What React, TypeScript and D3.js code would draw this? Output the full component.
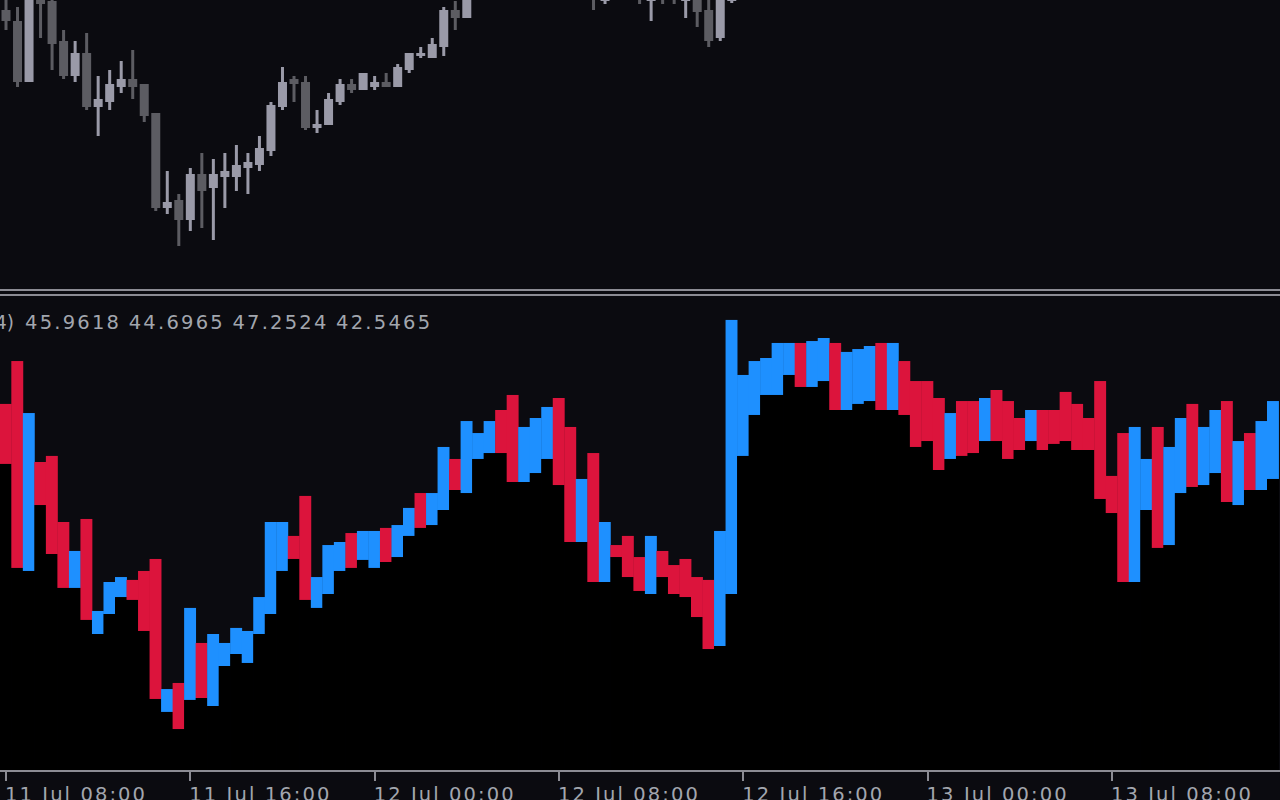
import React from "react";
import * as d3 from "d3";

// ---------- data ----------
// bottom pane: RSI candle ranges per bar (index 0 = 11 Jul 08:00, 30-minute bars)
const rsiHigh = [
  47.88, 50.56, 47.31, 44.25, 44.63, 40.5, 38.69, 40.69, 34.94, 36.75,
  37.06, 36.88, 37.44, 38.19, 30.06, 30.44, 35.13, 32.94, 33.5, 32.94,
  33.88, 33.69, 35.81, 40.5, 40.5, 39.63, 42.13, 37.06, 39.06, 39.25,
  39.81, 39.94, 39.94, 40.13, 40.31, 41.38, 42.31, 42.31, 45.19, 44.44,
  46.81, 46.06, 46.81, 47.5, 48.44, 46.44, 47.0, 47.69, 48.25, 46.44,
  43.19, 44.81, 40.5, 39.06, 39.63, 38.31, 39.63, 38.69, 37.81, 38.19,
  37.06, 36.88, 39.94, 53.13, 49.69, 50.56, 50.75, 51.69, 51.69, 51.69,
  51.81, 52.0, 51.69, 51.13, 51.31, 51.5, 51.69, 51.69, 50.56, 49.31,
  49.31, 48.25, 47.31, 48.06, 48.06, 48.25, 48.75, 48.06, 47.0, 47.5,
  47.5, 47.5, 48.63, 47.88, 47.0, 49.31, 43.38, 46.06, 46.44, 44.44,
  46.44, 45.19, 47.0, 47.88, 46.44, 47.5, 48.06, 45.56, 46.06, 46.81,
  48.06,
];
const rsiLow = [
  44.13, 37.63, 37.44, 41.56, 38.5, 36.38, 36.38, 34.38, 33.5, 34.75,
  35.81, 35.63, 33.69, 29.44, 28.63, 27.56, 29.38, 29.5, 29.0, 31.5,
  32.25, 31.69, 33.5, 34.75, 37.44, 38.19, 35.63, 35.13, 36.0, 37.44,
  37.63, 38.13, 37.63, 38.0, 38.31, 39.63, 40.13, 40.31, 41.25, 42.5,
  42.31, 44.44, 44.81, 44.81, 43.0, 43.0, 43.56, 44.44, 42.81, 39.25,
  39.25, 36.75, 36.75, 38.31, 37.06, 36.19, 36.0, 37.06, 36.0, 35.81,
  34.56, 32.56, 32.75, 36.0, 44.63, 47.19, 48.44, 48.44, 49.69, 48.94,
  48.94, 49.31, 47.5, 47.5, 47.88, 48.06, 47.5, 47.5, 47.19, 45.19,
  45.56, 43.75, 44.44, 44.63, 44.81, 45.56, 45.56, 44.44, 45.0, 45.56,
  45.0, 45.38, 45.56, 45.0, 45.0, 41.94, 41.06, 36.75, 36.75, 41.25,
  38.88, 39.06, 42.31, 42.69, 42.81, 43.56, 41.75, 41.56, 42.5, 42.5,
  43.19,
];
// 1 = rising (blue), 0 = falling (red)
const rsiUp = [
  0, 0, 1, 0, 0, 0, 1, 0, 1, 1,
  1, 0, 0, 0, 1, 0, 1, 0, 1, 1,
  1, 1, 1, 1, 1, 0, 0, 1, 1, 1,
  0, 1, 1, 0, 1, 1, 0, 1, 1, 0,
  1, 1, 1, 0, 0, 1, 1, 1, 0, 0,
  1, 0, 1, 0, 0, 0, 1, 0, 0, 0,
  0, 0, 1, 1, 1, 1, 1, 1, 1, 0,
  1, 1, 0, 1, 1, 1, 0, 1, 0, 0,
  0, 0, 1, 0, 0, 1, 0, 0, 0, 1,
  0, 0, 0, 0, 0, 0, 0, 0, 1, 1,
  0, 1, 1, 0, 1, 1, 0, 1, 0, 1,
  1,
];
const rsiLegendPrefix = "4)";
const rsiLegendValues = ["45.9618", "44.6965", "47.2524", "42.5465"];

// top pane: price candles (only those reaching into view)
const candleIdx = [
  0, 1, 2, 3, 4, 5, 6, 7, 8, 9, 10, 11, 12, 13, 14, 15, 16, 17, 18, 19,
  20, 21, 22, 23, 24, 25, 26, 27, 28, 29, 30, 31, 32, 33, 34, 35, 36, 37, 38, 39,
  40, 51, 52, 55, 56, 57, 58, 59, 60, 61, 62, 63,
];
const candleOpen = [
  160.90, 160.79, 160.18, 161.03, 160.99, 160.59, 160.24, 160.47, 159.93, 159.98,
  160.13, 160.21, 160.16, 159.87, 158.92, 159.00, 158.80, 159.26, 159.12, 159.23,
  159.23, 159.32, 159.35, 159.49, 159.93, 160.21, 160.18, 159.72, 159.75, 159.98,
  160.16, 160.10, 160.13, 160.18, 160.13, 160.30, 160.44, 160.42, 160.53, 160.90,
  160.82, 161.20, 160.99, 161.15, 160.99, 161.15, 161.12, 160.99, 161.10, 160.90,
  160.62, 160.99,
];
const candleHigh = [
  161.05, 160.93, 161.15, 161.10, 161.02, 160.70, 160.59, 160.67, 160.24, 160.30,
  160.39, 160.50, 160.16, 159.87, 159.29, 159.06, 159.32, 159.47, 159.41, 159.47,
  159.55, 159.47, 159.64, 159.98, 160.33, 160.24, 160.24, 159.90, 160.07, 160.21,
  160.21, 160.27, 160.24, 160.27, 160.36, 160.47, 160.53, 160.62, 160.93, 160.99,
  161.25, 161.30, 161.10, 161.20, 161.12, 161.20, 161.18, 161.10, 161.15, 161.03,
  161.08, 161.40,
];
const candleLow = [
  160.70, 160.13, 160.18, 160.62, 160.30, 160.21, 160.18, 159.90, 159.64, 159.90,
  160.07, 160.01, 159.78, 158.89, 158.86, 158.54, 158.69, 158.72, 158.60, 158.92,
  159.09, 159.06, 159.29, 159.44, 159.90, 159.98, 159.70, 159.67, 159.75, 159.95,
  160.07, 160.10, 160.10, 160.13, 160.13, 160.27, 160.42, 160.42, 160.44, 160.70,
  160.82, 160.90, 160.96, 160.96, 160.79, 160.96, 160.96, 160.82, 160.73, 160.53,
  160.59, 160.97,
];
const candleClose = [
  160.79, 160.18, 161.10, 160.96, 160.56, 160.24, 160.47, 159.93, 160.01, 160.16,
  160.21, 160.13, 159.84, 158.92, 158.98, 158.80, 159.26, 159.09, 159.26, 159.29,
  159.35, 159.38, 159.52, 159.95, 160.18, 160.16, 159.72, 159.76, 160.01, 160.16,
  160.10, 160.27, 160.18, 160.13, 160.33, 160.47, 160.47, 160.56, 160.90, 160.82,
  161.20, 161.05, 161.05, 161.03, 161.08, 161.04, 161.03, 161.06, 160.88, 160.59,
  161.05, 161.30,
];

// time axis
const tickIdx = [0, 16, 32, 48, 64, 80, 96];
const tickLabels = [
  "11 Jul 08:00", "11 Jul 16:00", "12 Jul 00:00", "12 Jul 08:00",
  "12 Jul 16:00", "13 Jul 00:00", "13 Jul 08:00",
];

// ---------- styles ----------
const W = 1280;
const H = 800;
const BG = "#0b0b10";
const GRID = "#8c8c94";
const TXT = "#a2a6ae";
const UP = "#1e90ff";
const DOWN = "#dc143c";
const BULL = "#9a9aa8";
const BEAR = "#5c5c62";
const FONT = "'DejaVu Sans', Tahoma, sans-serif";

export default function App() {
  const x = d3.scaleLinear().domain([0, 110]).range([6, 1273.2]);
  const step = x(1) - x(0);
  const yTop = d3.scaleLinear().domain([158.12, 161.0]).range([288, 0]);
  const yRsi = d3.scaleLinear().domain([25, 55]).range([770, 290]);
  const axisY = 771;

  return (
    <svg
      width={W}
      height={H}
      style={{ position: "absolute", left: 0, top: 0, display: "block" }}
    >
      <rect x={0} y={0} width={W} height={H} fill={BG} />

      {/* top pane candles */}
      <g>
        {candleIdx.map((k, i) => {
          const cx = x(k);
          const o = candleOpen[i];
          const c = candleClose[i];
          const col = c >= o ? BULL : BEAR;
          const bt = yTop(Math.max(o, c));
          const bb = yTop(Math.min(o, c));
          return (
            <g key={k}>
              <rect
                x={cx - 1.5}
                y={yTop(candleHigh[i])}
                width={3}
                height={yTop(candleLow[i]) - yTop(candleHigh[i])}
                fill={col}
              />
              <rect x={cx - 4.5} y={bt} width={9} height={Math.max(1, bb - bt)} fill={col} />
            </g>
          );
        })}
      </g>

      {/* pane separators */}
      <rect x={0} y={289} width={W} height={2} fill={GRID} />
      <rect x={0} y={294} width={W} height={2} fill={GRID} />

      {/* bottom pane */}
      <g>
        {rsiHigh.map((hi, k) => {
          const lo = rsiLow[k];
          const x0 = x(k) - 6.2;
          const w = step + 0.4;
          return (
            <g key={k}>
              <rect x={x0} y={yRsi(lo)} width={w} height={axisY - yRsi(lo)} fill="#000" />
              <rect
                x={x0}
                y={yRsi(hi)}
                width={w}
                height={yRsi(lo) - yRsi(hi)}
                fill={rsiUp[k] ? UP : DOWN}
              />
            </g>
          );
        })}
      </g>

      {/* legend text */}
      <text x={-5} y={329} fill={TXT} fontFamily={FONT} fontSize={19.5} textLength={19} lengthAdjust="spacingAndGlyphs">
        {rsiLegendPrefix}
      </text>
      {rsiLegendValues.map((v, i) => (
        <text
          key={v}
          x={25 + i * 103.7}
          y={329}
          fill={TXT}
          fontFamily={FONT}
          fontSize={19.5}
          textLength={94}
          lengthAdjust="spacing"
        >
          {v}
        </text>
      ))}

      {/* time axis */}
      <rect x={0} y={770} width={W} height={2} fill={GRID} />
      {tickIdx.map((k, i) => (
        <g key={k}>
          <rect x={Math.round(x(k)) - 1} y={772} width={2} height={9} fill={GRID} />
          <text
            x={x(k) - 1}
            y={801}
            fill={TXT}
            fontFamily={FONT}
            fontSize={19.5}
            textLength={140}
            lengthAdjust="spacing"
          >
            {tickLabels[i]}
          </text>
        </g>
      ))}
    </svg>
  );
}
